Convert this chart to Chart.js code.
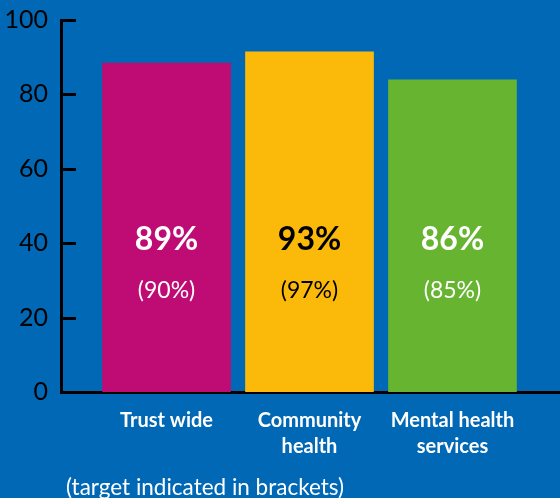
<!DOCTYPE html>
<html>
<head>
<meta charset="utf-8">
<script src="https://cdn.jsdelivr.net/npm/chart.js@4/dist/chart.umd.min.js"></script>
<style>
    body { margin: 0; background: #0068b4; }
    #wrap { position: relative; width: 560px; height: 498px; overflow: hidden; }
    #note {
        position: absolute; left: 66px; top: 474px; line-height: 26px;
        color: #fff; font-family: Lato, sans-serif; font-size: 22.5px; white-space: nowrap;
    }
</style>
</head>
<body>
<div id="wrap">
    <canvas id="chart"></canvas>
    <div id="note">(target indicated in brackets)</div>
</div>
<script>
// Chart data
var categories = [['Trust wide'], ['Community', 'health'], ['Mental health', 'services']];
var positions = [1, 2, 3];
var barHeights = [88.5, 91.5, 84];
var scoreLabels = ['89%', '93%', '86%'];
var targetLabels = ['(90%)', '(97%)', '(85%)'];
var barColors = ['#be0c74', '#fbba0a', '#67b431'];
var textColors = ['#ffffff', '#000000', '#ffffff'];
var yTicks = [0, 20, 40, 60, 80, 100];

// Inward tick marks on the y axis and the labels inside the bars
var extrasPlugin = {
    id: 'extras',
    afterDraw: function (chart) {
        var ctx = chart.ctx;
        var y = chart.scales.y;
        var area = chart.chartArea;
        ctx.save();
        ctx.strokeStyle = '#000';
        ctx.lineWidth = 3;
        yTicks.forEach(function (v) {
            var py = Math.round(y.getPixelForValue(v)) + 0.5;
            ctx.beginPath();
            ctx.moveTo(area.left, py);
            ctx.lineTo(area.left + 15, py);
            ctx.stroke();
        });
        var bars = chart.getDatasetMeta(0).data;
        ctx.textAlign = 'center';
        ctx.textBaseline = 'middle';
        bars.forEach(function (bar, i) {
            ctx.fillStyle = textColors[i];
            ctx.font = 'bold 32px Lato, sans-serif';
            ctx.fillText(scoreLabels[i], bar.x, y.getPixelForValue(41));
            ctx.font = '23px Lato, sans-serif';
            ctx.fillText(targetLabels[i], bar.x, y.getPixelForValue(27.3));
        });
        ctx.restore();
    }
};

function buildChart() {
    var ctx = document.getElementById('chart').getContext('2d');
    new Chart(ctx, {
        type: 'bar',
        data: {
            datasets: [{
                data: positions.map(function (p, i) { return { x: p, y: barHeights[i] }; }),
                backgroundColor: barColors,
                borderWidth: 0,
                barPercentage: 0.9,
                categoryPercentage: 1.0
            }]
        },
        options: {
            responsive: true,
            maintainAspectRatio: false,
            animation: false,
            layout: { padding: { top: 20, right: 0, left: 5, bottom: 26 } },
            plugins: { legend: { display: false }, tooltip: { enabled: false } },
            scales: {
                x: {
                    type: 'linear',
                    offset: false,
                    min: 0.262,
                    max: 3.752,
                    afterBuildTicks: function (axis) {
                        axis.ticks = positions.map(function (p) { return { value: p }; });
                    },
                    afterFit: function (axis) {
                        axis.height = 80;
                        axis.paddingLeft = 0;
                        axis.paddingRight = 0;
                    },
                    grid: { display: false, drawTicks: false, tickLength: 0 },
                    border: { color: '#000', width: 3 },
                    ticks: {
                        color: '#fff',
                        padding: 16,
                        maxRotation: 0,
                        autoSkip: false,
                        font: { family: 'Lato', weight: 'bold', size: 20, lineHeight: 1.3 },
                        callback: function (value) { return categories[value - 1]; }
                    }
                },
                y: {
                    min: 0,
                    max: 100,
                    afterBuildTicks: function (axis) {
                        axis.ticks = yTicks.map(function (v) { return { value: v }; });
                    },
                    afterFit: function (axis) {
                        axis.width = 56;
                        axis.paddingTop = 0;
                        axis.paddingBottom = 0;
                    },
                    grid: { display: false, drawTicks: false, tickLength: 0 },
                    border: { color: '#000', width: 3 },
                    ticks: {
                        color: '#000',
                        padding: 13,
                        font: { family: 'Lato', size: 25 }
                    }
                }
            }
        },
        plugins: [extrasPlugin]
    });
}

// Wait for the local fonts so the axes are measured with Lato
Promise.all([
    document.fonts.load('25px Lato'),
    document.fonts.load('bold 20px Lato'),
    document.fonts.load('bold 32px Lato')
]).then(buildChart, buildChart);
</script>
</body>
</html>
